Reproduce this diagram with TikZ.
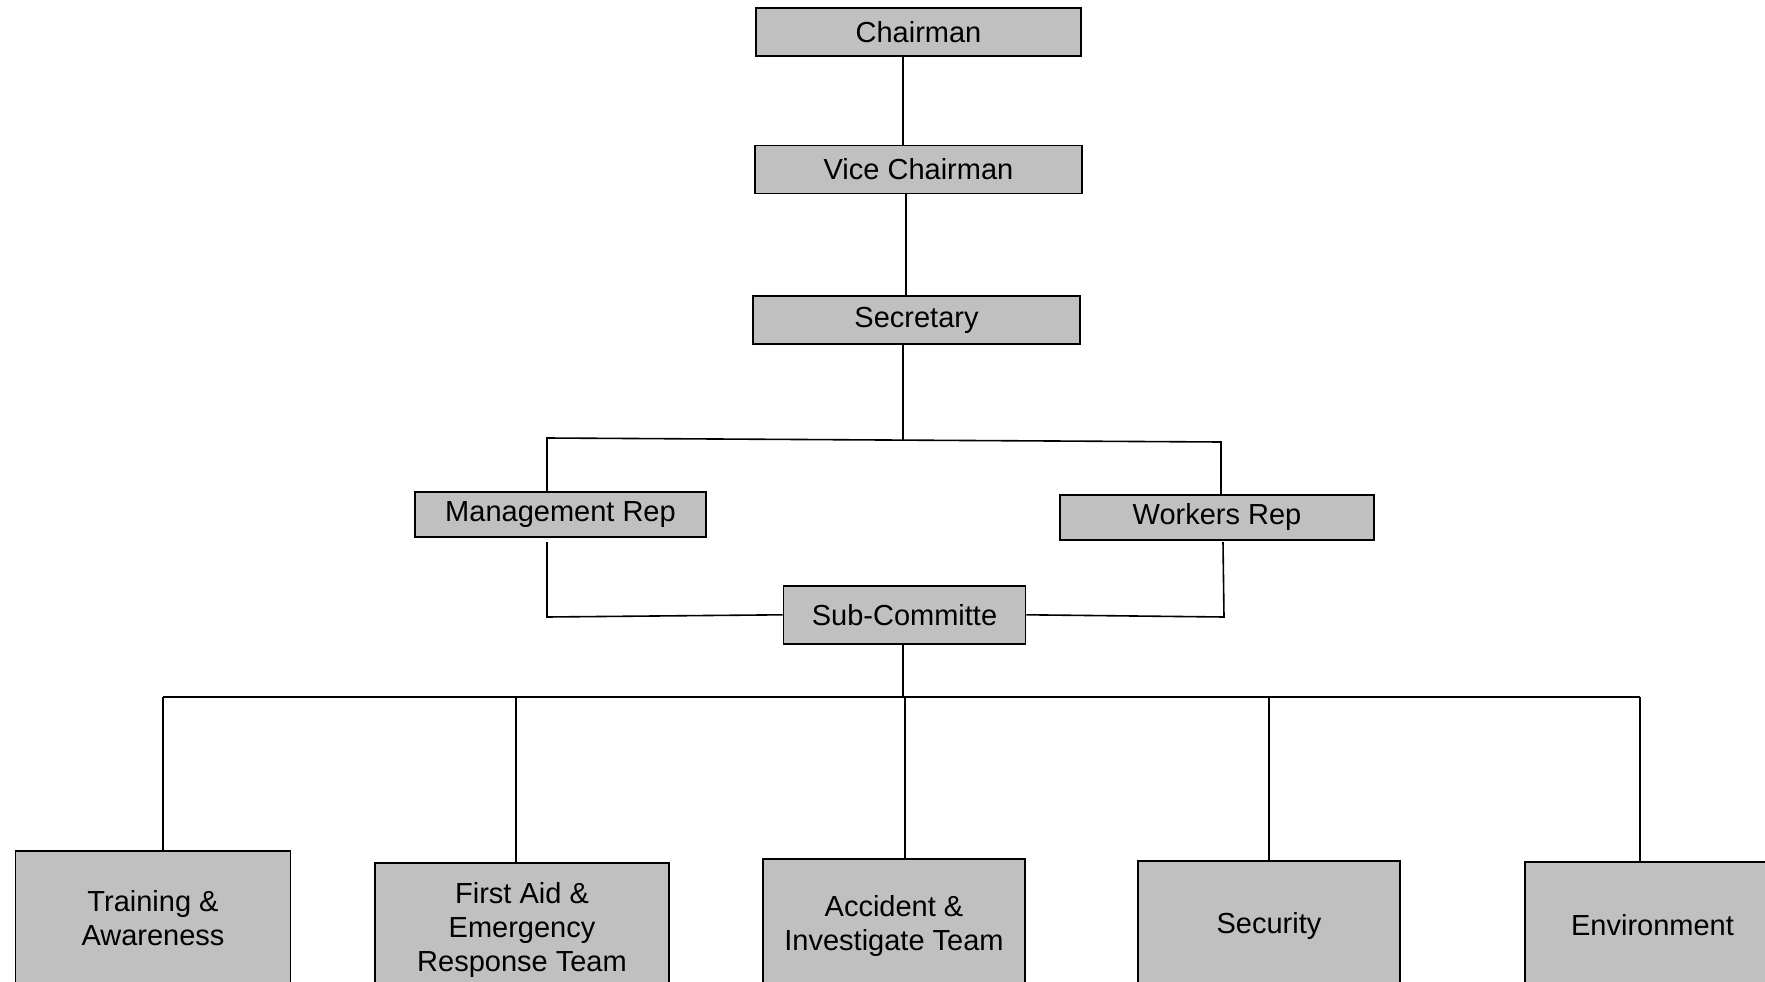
\documentclass[tikz,border=0pt]{standalone}
\usepackage{fontspec}
\setmainfont{Liberation Sans}
\usetikzlibrary{positioning}
\definecolor{boxgray}{RGB}{192,192,192}
\tikzstyle{object}=[rectangle, draw=black, line width=1.6pt, fill=boxgray,
        text centered, anchor=north, align=center, inner sep=2pt,
        font=\fontsize{29}{34}\selectfont]
\tikzstyle{member}=[object, minimum height=48pt]
\tikzstyle{rep}=[object, minimum height=45pt]
\tikzstyle{team}=[object, minimum height=134pt]
\tikzstyle{link}=[draw=black, line width=1.6pt]

\begin{document}
\begin{tikzpicture}[x=1pt, y=-1pt]
        \useasboundingbox (0,0) rectangle (1765,982);
        \clip (0,0) rectangle (1765,982);
        % committee heads
        \node (Chairman) [member, minimum width=325pt] at (918.5,7) {Chairman};
        \node (ViceChairman) [member, minimum width=327pt, below=88pt of Chairman] {Vice Chairman};
        \node (Secretary) [member, minimum width=327pt, below=101pt of ViceChairman, xshift=-2pt] {Secretary};
        % representatives
        \node (MgmtRep) [rep, minimum width=291pt] at (560.5,491) {Management Rep};
        \node (WorkersRep) [rep, minimum width=314pt] at (1217,494) {Workers Rep};
        \node (SubCommittee) [object, minimum width=242pt, minimum height=58pt] at (904.5,585) {Sub-Committe};
        % teams
        \node (Training) [team, minimum width=275pt] at (153,850) {Training \&\\Awareness};
        \node (FirstAid) [team, minimum width=294pt] at (522,862) {First Aid \&\\Emergency\\Response Team};
        \node (Accident) [team, minimum width=262pt] at (894,858) {Accident \&\\Investigate Team};
        \node (Security) [team, minimum width=262pt, minimum height=130pt] at (1269,860) {Security};
        \node (Environment) [team, minimum width=255pt, minimum height=126pt] at (1652.5,861) {Environment};

        \coordinate (secJoin) at (903,440);
        \coordinate (mTop) at (547,438);
        \coordinate (wTop) at (1221,442);
        \coordinate (mLow) at (547,542);
        \coordinate (mCorner) at (547,617);
        \coordinate (wLow) at (1223,542);
        \coordinate (wCorner) at (1224,617);
        \coordinate (busLeft) at (163,697);
        \coordinate (busRight) at (1640,697);

        \draw [link] ([xshift=-15.5pt]Chairman.south) -- ([xshift=-15.5pt]ViceChairman.north);
        \draw [link] ([xshift=-12.5pt]ViceChairman.south) -- ([xshift=-10.5pt]Secretary.north);
        \draw [link] ([xshift=-13.5pt]Secretary.south) -- (secJoin);
        \draw [link] (MgmtRep.north -| mTop) -- (mTop) -- (wTop) -- (WorkersRep.north -| wTop);
        \draw [link] (mLow) -- (mCorner) -- (SubCommittee.west);
        \draw [link] (wLow) -- (wCorner) -- (SubCommittee.east);
        \draw [link] ([xshift=-1.5pt]SubCommittee.south) -- ([xshift=-1.5pt]SubCommittee.south |- busLeft);
        \draw [link] (busLeft) -- (busRight);
        \foreach \n/\x in {Training/163, FirstAid/516, Accident/905, Security/1269, Environment/1640}
        {
          \coordinate (t\n) at (\x,697);
          \draw [link] (t\n) -- (t\n |- \n.north);
        }
\end{tikzpicture}
\end{document}
